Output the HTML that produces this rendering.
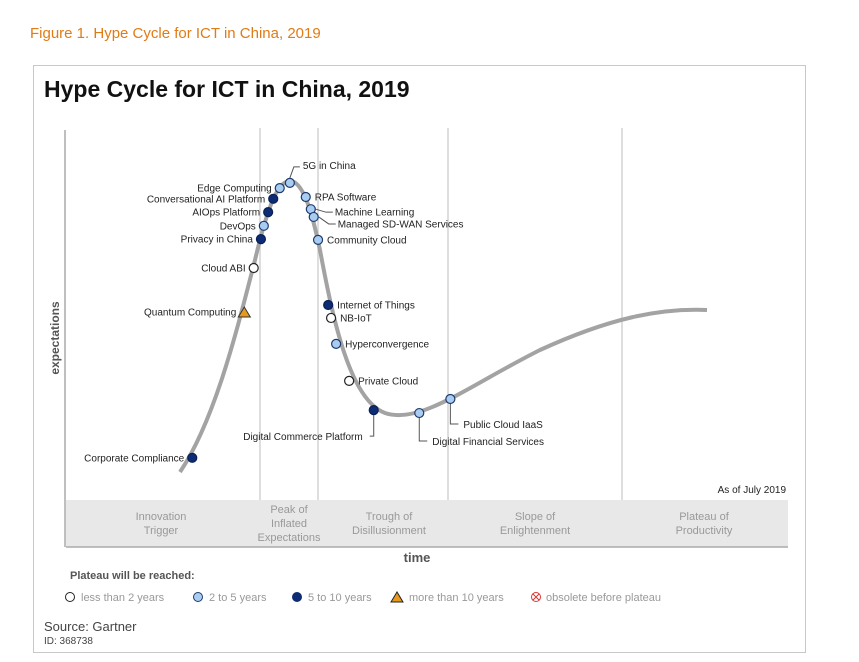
<!DOCTYPE html>
<html><head><meta charset="utf-8"><style>
body{margin:0;width:859px;height:662px;background:#fff;font-family:"Liberation Sans",sans-serif;overflow:hidden}
svg{position:absolute;left:0;top:0}
</style></head><body>
<svg width="859" height="662">
<text x="30" y="38" font-size="15" fill="#e07b16">Figure 1. Hype Cycle for ICT in China, 2019</text>
<rect x="33.5" y="65.5" width="772" height="587" fill="#fff" stroke="#c8c8c8"/>
<text x="44" y="97" font-size="23" font-weight="bold" fill="#111">Hype Cycle for ICT in China, 2019</text>
<g stroke="#d4d4d4" stroke-width="1.5">
<line x1="260" y1="128" x2="260" y2="547"/><line x1="318" y1="128" x2="318" y2="500"/>
<line x1="448" y1="128" x2="448" y2="500"/><line x1="622" y1="128" x2="622" y2="500"/>
</g>
<rect x="66" y="500" width="722" height="47" fill="#e8e8e8"/>
<line x1="66" y1="547" x2="788" y2="547" stroke="#aaa" stroke-width="1.5"/>
<line x1="65" y1="130" x2="65" y2="547" stroke="#aaa" stroke-width="1.5"/>
<text transform="translate(59,338) rotate(-90)" font-size="12" font-weight="bold" fill="#555" text-anchor="middle">expectations</text>
<text x="417" y="562" font-size="13" font-weight="bold" fill="#555" text-anchor="middle">time</text>
<text x="786" y="493" font-size="10" fill="#222" text-anchor="end">As of July 2019</text>
<g font-size="11" fill="#999" text-anchor="middle">
<text x="161" y="520">Innovation</text><text x="161" y="534">Trigger</text>
<text x="289" y="513">Peak of</text><text x="289" y="527">Inflated</text><text x="289" y="541">Expectations</text>
<text x="389" y="520">Trough of</text><text x="389" y="534">Disillusionment</text>
<text x="535" y="520">Slope of</text><text x="535" y="534">Enlightenment</text>
<text x="704" y="520">Plateau of</text><text x="704" y="534">Productivity</text>
</g>
<path d="M180,472 C215,420 237,330 255,260 C268,205 278,181 290,181 C303,181 312,212 320,250 C333,320 350,400 385,413 C420,425 470,385 540,350 C610,318 660,308 707,310" fill="none" stroke="#a3a3a3" stroke-width="4"/>
<g id="pts"></g>
<text x="70" y="579" font-size="11" font-weight="bold" fill="#555">Plateau will be reached:</text>
<g font-size="11" fill="#999">
<g><circle cx="70" cy="597" r="4.5" fill="#fff" stroke="#222"/><text x="81" y="601">less than 2 years</text></g>
<g><circle cx="198" cy="597" r="4.5" fill="#a9cdf0" stroke="#1e3a6e"/><text x="209" y="601">2 to 5 years</text></g>
<g><circle cx="297" cy="597" r="4.5" fill="#0d2c74" stroke="#0d2c74"/><text x="308" y="601">5 to 10 years</text></g>
<g><path d="M391,602 L397,592 L403,602Z" fill="#e59a1f" stroke="#222"/><text x="409" y="601">more than 10 years</text></g>
<g><circle cx="536" cy="597" r="4.5" fill="#fff" stroke="#d33"/><path d="M533,594 L539,600 M539,594 L533,600" stroke="#d33"/><text x="546" y="601">obsolete before plateau</text></g>
</g>
<text x="44" y="631" font-size="13" fill="#444">Source: Gartner</text>
<text x="44" y="644" font-size="10" fill="#444">ID: 368738</text>
</svg>
<script>
const names=["5G in China","Edge Computing","Conversational AI Platform","AIOps Platform","DevOps","Privacy in China","Cloud ABI","Quantum Computing","Corporate Compliance","RPA Software","Machine Learning","Managed SD-WAN Services","Community Cloud","Internet of Things","NB-IoT","Hyperconvergence","Private Cloud","Digital Commerce Platform","Digital Financial Services","Public Cloud IaaS"];
const timeVals=[31.1,29.7,28.8,28.1,27.5,27.1,26.1,24.8,17.6,33.3,34.0,34.4,35.0,36.4,36.8,37.5,39.3,42.7,49.0,53.3];
const expVals=[85.7,84.3,81.4,77.8,74.1,70.5,62.7,50.8,11.4,81.9,78.6,76.5,70.3,52.7,49.2,42.2,32.2,24.3,23.5,27.3];
const cats=["b","b","d","d","b","d","w","t","d","b","b","b","b","d","w","b","w","d","b","b"];
const xS=t=>65+t*7.23, yS=e=>500-e*3.7;
const lay=["up","L","L","L","L","L","L","L","L","R","ml","ml2","R","R","R","R","R","dl","dr","dr2"];
const ns="http://www.w3.org/2000/svg",g=document.getElementById('pts');
function mk(tag,a){const e=document.createElementNS(ns,tag);for(const k in a)e.setAttribute(k,a[k]);g.appendChild(e);return e;}
names.forEach((n,i)=>{
 const x=xS(timeVals[i]),y=yS(expVals[i]);let tx,ty,anc="start";const L=lay[i];
 if(L==="L"){tx=x-8;ty=y+3.5;anc="end";}
 else if(L==="R"){tx=x+9;ty=y+3.5;}
 else if(L==="up"){mk('path',{d:`M${x},${y-5} L${x+4},${y-16} L${x+10},${y-16}`,fill:'none',stroke:'#555'});tx=x+13;ty=y-14;}
 else if(L==="ml"||L==="ml2"){const ly=L==="ml"?y+3:y+7;mk('path',{d:`M${x+5},${y} L${x+15},${ly} L${x+22},${ly}`,fill:'none',stroke:'#555'});tx=x+24;ty=ly+3.5;}
 else if(L==="dl"){mk('path',{d:`M${x},${y+5} L${x},${y+26} L${x-4},${y+26}`,fill:'none',stroke:'#555'});tx=x-11;ty=y+30;anc="end";}
 else {const d=L==="dr"?28:25;mk('path',{d:`M${x},${y+5} L${x},${y+d} L${x+8},${y+d}`,fill:'none',stroke:'#555'});tx=x+13;ty=y+d+4;}
 const t=mk('text',{x:tx,y:ty,'font-size':'10',fill:'#222','text-anchor':anc});t.textContent=n;
 
 
 let m;
 if(cats[i]==="t")m=mk('path',{d:`M${x-6},${y+5} L${x},${y-5} L${x+6},${y+5}Z`,fill:'#e59a1f',stroke:'#333'});
 else m=mk('circle',{cx:x,cy:y,r:4.5,fill:cats[i]==="w"?"#fff":cats[i]==="b"?"#a9cdf0":"#0d2c74",stroke:cats[i]==="w"?"#222":cats[i]==="b"?"#1e3a6e":"#0a1f55","stroke-width":1.2});
 
 
});
</script>
</body></html>
